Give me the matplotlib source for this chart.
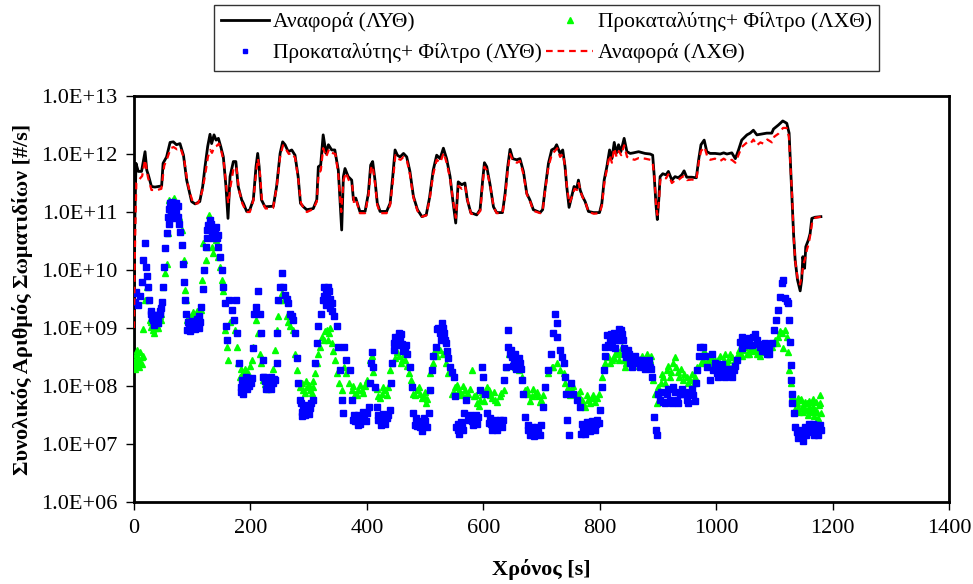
import numpy as np
import matplotlib.pyplot as plt
from matplotlib.ticker import FixedLocator, FuncFormatter, NullLocator

#-----------------------------------FONT
plt.rcParams['font.family'] = ['Liberation Serif', 'DejaVu Serif']

#-----------------------------------DATA (time [s], log10 of particle number [#/s])
# Αναφορά (ΛΥΘ) - black solid line
ref_lyt = [(0, 8.5), (1, 10.6), (3.4, 11.84), (7.4, 11.70), (13, 11.70), (19, 12.04), (22, 11.72),
           (24.6, 11.64), (30, 11.44), (36, 11.43), (47.5, 11.45), (50, 11.84), (56, 11.95), (62, 12.20),
           (67.6, 12.21), (73, 12.16), (79, 12.18), (85, 11.98), (90.5, 11.55), (95, 11.35), (99, 11.18),
           (105, 11.14), (113, 11.18), (118, 11.44), (122, 11.78), (126.6, 12.13), (130.6, 12.34),
           (133.4, 12.18), (137.5, 12.33), (141, 12.24), (145, 12.27), (149, 12.13), (153.5, 11.95),
           (158, 11.44), (161.5, 10.89), (165, 11.61), (170.7, 11.87), (175, 11.87), (179, 11.44),
           (185, 11.21), (188, 11.15), (193.6, 11.01), (199, 11.04), (205, 11.21), (209.6, 11.78),
           (212.5, 12.01), (215, 11.78), (219, 11.21), (225, 11.09), (239.4, 11.10), (245, 11.44),
           (251, 12.01), (255.4, 12.21), (259.5, 12.16), (265, 12.04), (271, 12.07), (276.6, 11.98),
           (282, 11.61), (286, 11.15), (291, 11.09), (296.7, 11.04), (308, 11.06), (314, 11.21),
           (316.7, 11.78), (320.7, 11.81), (325, 12.33), (330, 12.01), (334, 12.16), (339.6, 12.07),
           (345, 12.07), (351, 11.72), (356.8, 10.69), (359.7, 11.61), (362.5, 11.75), (368, 11.61),
           (374, 11.55), (377, 11.21), (381, 11.24), (388, 11.01), (397, 11.01), (402.6, 11.32),
           (406.6, 11.81), (410, 11.87), (414, 11.55), (418, 11.15), (422.7, 11.01), (434, 11.01),
           (440, 11.15), (444.5, 11.61), (448.5, 12.07), (452.5, 11.98), (457, 11.95), (463, 12.01),
           (468.5, 11.95), (474, 11.70), (480, 11.27), (487, 11.04), (494.6, 10.92), (502, 10.95),
           (507.6, 11.24), (514, 11.72), (520, 11.98), (525.8, 11.92), (531.5, 12.10), (537, 11.92),
           (543, 11.61), (547.6, 11.21), (552.7, 10.81), (557, 11.52), (563, 11.47), (568.5, 11.50),
           (572.6, 11.21), (578.5, 10.99), (588.8, 10.95), (594.5, 11.04), (599, 11.55), (602, 11.85),
           (606, 11.78), (611.7, 11.47), (617.5, 11.09), (623, 10.99), (633, 10.99), (637.5, 11.32),
           (642, 11.78), (646, 12.08), (650.5, 11.92), (657.5, 11.90), (663, 11.92), (669, 11.70),
           (674.7, 11.32), (680, 11.21), (686, 11.04), (697.6, 10.99), (702, 11.04), (706, 11.38),
           (712, 11.84), (717.5, 12.07), (723, 12.10), (726, 12.16), (732, 12.01), (736.5, 12.07),
           (740.5, 11.78), (743.4, 11.44), (747.4, 11.08), (752, 11.27), (756, 11.44), (760.6, 11.41),
           (763.5, 11.55), (766.4, 11.38), (770.4, 11.27), (775, 11.18), (780.7, 11.01), (789.4, 10.99),
           (799.7, 10.99), (803.7, 11.15), (807.7, 11.55), (812.3, 11.78), (817, 12.07), (821, 11.92),
           (825, 12.20), (828.5, 12.01), (832.4, 12.16), (836.4, 12.04), (842, 12.27), (846.8, 12.04),
           (852.5, 12.01), (858, 12.02), (866.8, 12.04), (878, 12.01), (886.6, 12.00), (891, 11.98),
           (893.4, 11.66), (897, 11.09), (899, 10.87), (901.5, 11.21), (903.8, 11.61), (908.4, 11.66),
           (914, 11.64), (918, 11.70), (924, 11.55), (929.5, 11.61), (935, 11.59), (941, 11.64),
           (945, 11.71), (949.5, 11.60), (958, 11.60), (966, 11.59), (970, 11.90), (974, 12.16),
           (979.5, 12.24), (984, 12.04), (989.8, 12.01), (998.4, 12.01), (1007, 12.00), (1013, 12.02),
           (1018.6, 12.00), (1027, 12.02), (1033, 11.92), (1038.5, 12.07), (1044, 12.24), (1053, 12.33),
           (1058.5, 12.36), (1064, 12.41), (1070, 12.33), (1081, 12.35), (1087, 12.36), (1095.6, 12.36),
           (1098.5, 12.43), (1107, 12.50), (1114.5, 12.57), (1121.4, 12.53), (1125.4, 12.36),
           (1128, 11.78), (1130.6, 11.21), (1133, 10.63), (1135.8, 10.17), (1139.8, 9.83), (1144.4, 9.64),
           (1147, 9.83), (1149, 10.23), (1152, 10.03), (1154, 10.40), (1158.6, 10.52), (1161.5, 10.63),
           (1164.4, 10.89), (1170, 10.91), (1180, 10.92)]

# Αναφορά (ΛΧΘ) - red dashed line
ref_lxt = [(0, 9.0), (1.5, 10.3), (4, 11.5), (8, 11.55), (14, 11.62), (19, 11.9), (24, 11.6), (30, 11.38),
           (40, 11.38), (47, 11.40), (52, 11.80), (58, 11.95), (63, 12.10), (68, 12.12), (74, 12.08),
           (80, 12.10), (86, 11.92), (92, 11.5), (97, 11.30), (102, 11.14), (110, 11.15), (117, 11.35),
           (122, 11.62), (127, 11.95), (131, 12.07), (134, 12.02), (138, 12.12), (142, 12.14),
           (146, 12.18), (150, 12.05), (154, 11.88), (159, 11.40), (162, 11.15), (166, 11.45),
           (171, 11.75), (176, 11.78), (180, 11.40), (186, 11.15), (193, 11.0), (199, 11.0), (205, 11.2),
           (210, 11.7), (213, 11.92), (216, 11.72), (220, 11.18), (226, 11.06), (239, 11.07),
           (245, 11.42), (251, 11.95), (256, 12.15), (260, 12.10), (266, 12.00), (271, 12.02),
           (277, 11.93), (282, 11.58), (287, 11.15), (292, 11.06), (297, 11.0), (308, 11.05),
           (314, 11.18), (317, 11.65), (321, 11.72), (325, 12.10), (330, 11.95), (335, 12.08),
           (340, 12.02), (346, 12.0), (351, 11.65), (356, 11.0), (360, 11.55), (364, 11.68),
           (369, 11.55), (375, 11.45), (378, 11.15), (382, 11.2), (388, 10.98), (397, 10.98),
           (403, 11.30), (407, 11.75), (410, 11.80), (414, 11.5), (418, 11.12), (423, 10.98),
           (434, 10.98), (440, 11.12), (445, 11.55), (449, 11.98), (453, 11.92), (458, 11.90),
           (463, 11.95), (469, 11.88), (474, 11.65), (480, 11.25), (487, 11.02), (495, 10.92),
           (502, 10.94), (508, 11.22), (514, 11.65), (520, 11.90), (526, 11.85), (532, 12.02),
           (537, 11.85), (543, 11.58), (548, 11.2), (553, 10.9), (557, 11.45), (563, 11.40),
           (569, 11.45), (573, 11.2), (579, 10.97), (589, 10.95), (595, 11.02), (599, 11.50),
           (602, 11.78), (606, 11.72), (612, 11.45), (618, 11.08), (623, 10.98), (633, 10.98),
           (638, 11.30), (642, 11.72), (646, 12.0), (651, 11.88), (658, 11.85), (663, 11.88),
           (669, 11.65), (675, 11.30), (680, 11.2), (686, 11.02), (698, 10.98), (702, 11.02),
           (706, 11.35), (712, 11.78), (718, 12.0), (723, 12.05), (727, 12.10), (732, 11.95),
           (737, 12.0), (741, 11.75), (744, 11.4), (748, 11.15), (752, 11.25), (757, 11.4),
           (761, 11.38), (764, 11.5), (767, 11.35), (771, 11.25), (776, 11.15), (781, 11.0),
           (790, 10.97), (800, 10.98), (804, 11.12), (808, 11.5), (812, 11.72), (817, 11.98),
           (821, 11.85), (825, 12.1), (829, 11.95), (833, 12.05), (837, 11.98), (842, 12.15),
           (847, 11.95), (853, 11.92), (860, 11.90), (867, 11.93), (878, 11.92), (887, 11.9),
           (891, 11.85), (894, 11.6), (897, 11.1), (899, 10.95), (902, 11.2), (904, 11.55),
           (909, 11.6), (914, 11.58), (918, 11.65), (924, 11.5), (930, 11.55), (935, 11.55),
           (941, 11.6), (945, 11.62), (950, 11.55), (958, 11.56), (966, 11.55), (970, 11.85),
           (974, 12.05), (980, 12.12), (985, 11.95), (990, 11.90), (998, 11.92), (1007, 11.88),
           (1013, 11.92), (1019, 11.88), (1027, 11.90), (1033, 11.85), (1039, 12.0), (1044, 12.12),
           (1053, 12.2), (1059, 12.18), (1064, 12.25), (1070, 12.15), (1076, 12.2), (1081, 12.18),
           (1088, 12.25), (1096, 12.2), (1100, 12.3), (1107, 12.35), (1115, 12.45), (1121, 12.45),
           (1125, 12.3), (1128, 11.75), (1131, 11.2), (1133, 10.6), (1136, 10.15), (1140, 9.85),
           (1144, 9.75), (1147, 9.9), (1150, 10.1), (1153, 10.2), (1156, 10.35), (1159, 10.45),
           (1162, 10.62), (1165, 10.82), (1170, 10.9), (1180, 10.92)]

# Προκαταλύτης+ Φίλτρο (ΛΥΘ) - blue squares (main trace + points around it)
dpf_lyt = [(0, 9.6), (2, 9.45), (4, 9.62), (7, 9.40), (10, 9.55), (13, 9.80), (16, 10.17), (19, 10.46),
           (20.6, 10.06), (22.5, 9.9), (24.6, 9.71), (26, 9.48), (28.6, 9.25), (31, 9.18), (33, 9.14),
           (36, 9.12), (39, 9.14), (42, 9.18), (44.7, 9.25), (48.7, 9.45), (50.4, 9.71), (52, 10.06),
           (53, 10.38), (56, 10.63), (59, 10.92), (62, 11.15), (64.7, 11.09), (67.6, 10.95), (70, 11.05),
           (73, 11.15), (76, 10.92), (79, 10.66), (82, 10.43), (85, 10.11), (86.5, 9.80), (87.6, 9.48),
           (89, 9.25), (91.6, 8.97), (94, 9.0), (96, 9.02), (99, 9.05), (102, 9.07), (105, 9.08),
           (107.7, 9.08), (110, 9.10), (113, 9.11), (115, 9.37), (118, 9.68), (120, 10.00), (123, 10.40),
           (126, 10.69), (128, 10.78), (130.6, 10.86), (133.4, 10.63), (136, 10.69), (138.5, 10.72),
           (141, 10.75), (145, 10.40), (148, 10.23), (150.6, 10.00), (153.5, 9.71), (156, 9.43),
           (158, 9.03), (160, 8.79), (163.8, 9.48), (168, 9.31), (172, 9.14), (175, 9.48), (177.5, 8.91),
           (181, 8.39), (183, 7.99), (186.7, 7.87), (190.7, 8.02), (193.5, 8.05), (196.5, 8.07),
           (199, 8.1), (202, 8.13), (205, 8.65), (206, 9.25), (209.6, 9.37), (213.6, 9.63), (216.5, 9.25),
           (218, 8.91), (221, 8.45), (222, 8.16), (225, 8.08), (228, 8.02), (231, 8.0), (233.7, 7.99),
           (238, 8.05), (242, 8.10), (245, 8.39), (246, 8.91), (248, 9.48), (251, 9.71), (253.7, 9.94),
           (256.6, 9.71), (259.5, 9.57), (262, 9.5), (265, 9.43), (268, 9.25), (271, 9.2), (274, 9.14),
           (276.6, 8.91), (279.5, 8.48), (281, 8.05), (285, 7.76), (288, 7.56), (291, 7.56), (294, 7.56),
           (298, 7.6), (302, 7.62), (307, 7.76), (311, 8.39), (314, 8.74), (316.7, 9.03), (320.7, 9.25),
           (324, 9.48), (327, 9.71), (331, 9.54), (335.6, 9.63), (339.6, 9.43), (343.6, 9.20),
           (348, 9.03), (351, 8.68), (354, 8.28), (356.8, 7.76), (358.5, 7.53), (360, 8.68),
           (365, 8.45), (371, 8.28), (374, 7.76), (377, 7.41), (380, 7.40), (382.6, 7.39), (387, 7.42),
           (391, 7.44), (395, 7.48), (400, 7.53), (403, 7.64), (406, 8.05), (407, 8.39), (408.5, 8.59),
           (411, 8.33), (414, 7.99), (417, 7.64), (420, 7.41), (423, 7.41), (426, 7.41), (430, 7.43),
           (434.5, 7.44), (439, 7.59), (441.5, 8.05), (443, 8.39), (446, 8.62), (449, 8.85), (453, 8.85),
           (457.5, 8.79), (460, 8.72), (463, 8.68), (466, 8.62), (469, 8.56), (474, 8.33), (477, 7.99),
           (479, 7.53), (483, 7.33), (487, 7.31), (491.6, 7.30), (496, 7.35), (500, 7.39), (506, 7.53),
           (509, 7.93), (512, 8.28), (514.5, 8.51), (519, 8.68), (521, 8.99), (525, 8.91), (529, 9.08),
           (533, 8.91), (536.5, 8.74), (540, 8.48), (543, 8.33), (546, 8.25), (549, 8.16), (551.6, 7.82),
           (553.3, 7.30), (557, 7.24), (560, 7.27), (563, 7.30), (567, 7.53), (570.5, 7.76), (574.5, 7.41),
           (580, 7.39), (586, 7.41), (591.6, 7.46), (594.5, 7.93), (597.5, 8.33), (600, 8.16), (603, 7.87),
           (606, 7.53), (609, 7.36), (613, 7.34), (617.5, 7.33), (622, 7.33), (626, 7.33), (630, 7.37),
           (633.5, 7.41), (636, 8.10), (639, 8.33), (642, 8.68), (643, 8.97), (646, 8.56), (649, 8.50),
           (652, 8.45), (655, 8.42), (659, 8.39), (663.3, 8.39), (666, 8.10), (669, 7.87), (672, 7.46),
           (677.5, 7.24), (682, 7.22), (686, 7.21), (690, 7.21), (694.5, 7.21), (700, 7.33), (703, 7.64),
           (706, 7.99), (712, 8.28), (716.7, 8.56), (720.5, 8.91), (723.4, 9.25), (726, 9.08),
           (727.4, 8.85), (732, 8.62), (735, 8.5), (738, 8.39), (740.5, 8.16), (742, 7.87), (744.6, 7.41),
           (747.4, 7.15), (750, 8.05), (755, 7.87), (760.6, 7.76), (766.4, 7.64), (767.5, 7.18),
           (772, 7.24), (776, 7.27), (780.7, 7.30), (785, 7.31), (789.4, 7.33), (794, 7.34), (798, 7.36),
           (800.7, 7.59), (803.7, 7.99), (806.6, 8.28), (808.4, 8.51), (809.5, 8.68), (812.3, 8.88),
           (817, 8.79), (821, 8.68), (823.8, 8.91), (828.5, 8.79), (832.4, 8.99), (836.4, 8.97),
           (839.8, 8.79), (843.7, 8.56), (848, 8.62), (852.5, 8.39), (858, 8.45), (863.7, 8.39),
           (869.5, 8.33), (875, 8.39), (881, 8.41), (886.6, 8.33), (889.5, 8.16), (893.4, 7.46),
           (897, 7.24), (899, 7.15), (901, 7.87), (903.8, 7.76), (909.5, 7.73), (915, 7.87), (921, 7.76),
           (926.6, 7.99), (932.4, 7.76), (938, 7.87), (943.9, 7.87), (949.5, 7.76), (955, 7.87),
           (961, 7.84), (966, 8.05), (968, 8.28), (970, 8.51), (973, 8.68), (977, 8.68), (981, 8.51),
           (985, 8.33), (989, 8.10), (993, 8.56), (995.4, 8.28), (1001, 8.22), (1007, 8.22), (1013, 8.21),
           (1018.6, 8.22), (1024, 8.22), (1030, 8.28), (1036, 8.45), (1041, 8.76), (1047, 8.74),
           (1053, 8.79), (1058.5, 8.71), (1064, 8.85), (1070, 8.79), (1075.6, 8.68), (1081, 8.68),
           (1087, 8.56), (1091, 8.65), (1095.6, 8.74), (1099.6, 8.97), (1103, 9.14), (1107, 9.31),
           (1110, 9.54), (1113, 9.77), (1114.5, 9.83), (1118.6, 9.51), (1121, 9.47), (1124, 9.43),
           (1126, 9.14), (1127, 8.76), (1128, 8.36), (1129, 8.10), (1130, 7.87), (1131, 7.70), (1133, 7.53),
           (1136, 7.30), (1138.5, 7.2), (1141.5, 7.10), (1144, 7.12), (1147, 7.15), (1150, 7.18),
           (1153, 7.21), (1156, 7.24), (1158.6, 7.27), (1161.5, 7.28), (1164.4, 7.30), (1167, 7.27),
           (1170, 7.24), (1173, 7.25), (1176, 7.27), (1180, 7.24),
           # spread of the band
           (30, 9.3), (33, 9.22), (36, 9.2), (40, 9.22), (44, 9.3), (47, 9.35), (35, 9.05), (41, 9.08),
           (93, 9.1), (97, 8.95), (100, 9.12), (104, 8.98), (108, 9.15), (111, 9.0), (112, 9.2),
           (60, 11.05), (63, 10.98), (66, 11.18), (69, 10.9), (72, 11.0), (75, 11.1), (61, 10.8), (77, 10.8),
           (125, 10.55), (129, 10.7), (132, 10.8), (135, 10.55), (139, 10.6), (142, 10.55), (144, 10.6),
           (185, 8.1), (188, 7.95), (192, 8.15), (195, 7.95), (198, 8.0), (201, 8.05), (184, 7.9),
           (224, 8.15), (227, 7.95), (230, 8.1), (235, 7.95), (240, 8.12), (236, 8.15),
           (287, 7.7), (290, 7.62), (293, 7.5), (296, 7.68), (300, 7.52), (304, 7.7), (289, 7.48),
           (326, 9.55), (329, 9.6), (333, 9.7), (337, 9.5), (341, 9.3), (330, 9.4), (336, 9.35),
           (378, 7.5), (384, 7.5), (389, 7.35), (393, 7.55), (398, 7.4), (385, 7.32),
           (419, 7.5), (424, 7.33), (428, 7.52), (432, 7.35), (436, 7.5),
           (447, 8.75), (451, 8.7), (455, 8.92), (459, 8.9), (462, 8.6), (467, 8.7),
           (484, 7.45), (489, 7.4), (494, 7.23), (498, 7.45), (503, 7.3),
           (523, 9.0), (527, 8.8), (531, 9.0), (535, 8.8), (538, 8.6),
           (556, 7.35), (559, 7.18), (562, 7.38), (565, 7.25),
           (577, 7.5), (582, 7.32), (588, 7.5), (590, 7.35),
           (611, 7.45), (615, 7.25), (620, 7.42), (624, 7.25), (628, 7.42), (632, 7.3),
           (648, 8.62), (651, 8.35), (654, 8.55), (657, 8.3), (661, 8.48), (664, 8.3),
           (676, 7.33), (680, 7.15), (684, 7.3), (688, 7.13), (692, 7.3), (697, 7.15),
           (770, 7.35), (774, 7.18), (778, 7.38), (783, 7.22), (787, 7.4), (792, 7.25), (796, 7.42),
           (814, 8.7), (819, 8.9), (826, 8.65), (830, 8.85), (834, 8.8), (838, 8.9), (842, 8.65),
           (846, 8.5), (850, 8.55), (855, 8.33), (860, 8.52), (866, 8.45), (872, 8.45), (878, 8.3),
           (884, 8.45), (888, 8.3), (906, 7.9), (912, 7.7), (918, 7.95), (924, 7.7), (930, 7.9),
           (935, 7.7), (941, 7.95), (947, 7.9), (952, 7.7), (958, 7.95), (963, 7.75),
           (998, 8.3), (1004, 8.15), (1010, 8.3), (1016, 8.15), (1021, 8.3), (1027, 8.15), (1033, 8.35),
           (998, 8.4), (1010, 8.38), (1044, 8.85), (1050, 8.7), (1056, 8.82), (1061, 8.7), (1067, 8.9),
           (1073, 8.72), (1078, 8.6), (1084, 8.75), (1090, 8.55), (1045, 8.65),
           (1143, 7.25), (1149, 7.05), (1152, 7.3), (1155, 7.15), (1160, 7.35), (1163, 7.2),
           (1166, 7.35), (1169, 7.15), (1172, 7.32), (1175, 7.15), (1178, 7.32)]

# Προκαταλύτης+ Φίλτρο (ΛΧΘ) - green triangles (main trace + points around it)
dpf_lxt = [(0, 8.39), (2, 8.45), (4, 8.35), (7.4, 8.48), (10, 8.42), (13, 8.5), (15, 8.51), (16, 8.99),
           (19, 9.48), (21.8, 9.71), (24.6, 9.48), (27.5, 9.14), (30, 9.02), (33, 8.97), (36, 9.0),
           (39, 9.03), (42, 9.08), (45.8, 9.14), (50.4, 9.71), (53, 9.94), (56, 10.11), (59, 10.63),
           (60.7, 11.21), (64, 11.15), (67.6, 11.21), (70, 11.1), (73, 11.04), (78, 10.92), (82, 10.69),
           (86, 10.17), (87.6, 9.66), (89, 9.48), (91.6, 9.14), (96, 9.14), (99, 9.17), (102, 9.20),
           (105, 9.22), (107.7, 9.25), (111, 9.28), (114.5, 9.31), (116, 9.83), (119, 10.46), (124, 10.17),
           (126, 10.40), (129.4, 10.95), (133.4, 10.40), (136, 10.29), (141, 10.52), (145, 10.23),
           (148, 10.06), (150.6, 9.83), (153.5, 9.63), (156, 8.97), (159, 8.68), (162, 8.45), (165, 9.11),
           (170.7, 9.14), (173.5, 8.97), (176.4, 8.68), (179, 8.39), (182, 8.16), (185, 8.2), (188, 8.22),
           (192, 8.22), (196.5, 8.22), (202, 8.45), (205, 8.68), (209.6, 9.14), (213.6, 8.91),
           (216.5, 8.56), (219, 8.39), (222, 8.10), (225, 8.03), (228, 7.99), (233.7, 7.99), (238, 8.3),
           (242, 8.62), (245, 8.97), (248, 9.20), (251, 9.48), (253.7, 9.60), (257.7, 9.48), (262, 9.20),
           (265, 9.1), (268, 9.03), (274, 8.97), (276.6, 8.56), (279.5, 8.28), (282, 8.05), (285, 7.99),
           (291, 7.93), (296.7, 7.99), (302, 7.93), (308, 7.99), (311, 8.22), (314, 8.39), (316.7, 8.56),
           (319.6, 8.68), (322.5, 8.85), (326.5, 8.79), (331, 8.97), (335.6, 8.91), (339.6, 8.74),
           (345, 8.45), (348, 8.22), (353, 8.05), (357, 7.93), (360, 8.33), (365, 8.22), (370, 8.05),
           (374, 7.93), (380, 7.87), (385, 7.93), (391, 7.93), (396, 8.0), (400, 8.10), (404.6, 8.45),
           (408.5, 8.51), (411, 8.25), (414, 7.99), (420, 7.82), (426, 7.87), (431.5, 7.93), (437, 7.99),
           (440, 8.28), (443, 8.39), (449, 8.48), (455, 8.51), (460.6, 8.45), (466, 8.45), (472, 8.22),
           (476.4, 8.10), (480, 7.87), (486, 7.93), (491.6, 7.87), (497.5, 7.82), (502, 7.70), (506, 7.93),
           (509, 8.22), (513, 8.39), (517, 8.62), (521, 8.51), (525.8, 8.62), (530, 8.56), (536.5, 8.39),
           (540, 8.22), (546, 7.87), (552, 7.99), (557.5, 7.93), (563, 7.87), (568.7, 7.93), (574.5, 7.87),
           (580, 8.28), (583.5, 7.82), (589, 7.70), (594.5, 7.76), (600, 7.87), (604, 7.9), (609, 7.93),
           (615, 7.79), (621, 7.76), (628, 7.82), (635, 7.93), (639, 8.33), (643.5, 8.56), (649, 8.39),
           (655, 8.33), (660.6, 8.28), (666, 8.16), (672, 7.93), (677.5, 7.87), (683, 7.82), (689, 7.87),
           (694.5, 7.82), (700, 7.76), (706, 7.99), (712, 8.22), (717.5, 8.33), (720.5, 8.33), (726, 8.39),
           (732, 8.28), (738, 8.22), (740.5, 8.05), (746, 7.99), (752, 7.93), (758, 7.87), (763.5, 7.87),
           (769, 7.76), (775, 7.64), (780.7, 7.76), (786.5, 7.79), (792, 7.73), (798, 7.87), (803.7, 8.16),
           (809.5, 8.39), (815, 8.51), (821, 8.45), (826.5, 8.56), (832.4, 8.45), (838, 8.68), (844, 8.33),
           (849.4, 8.51), (855, 8.39), (861, 8.45), (866.8, 8.39), (872.5, 8.51), (878, 8.45), (884, 8.33),
           (888, 8.51), (891.5, 8.10), (895.5, 7.87), (898, 7.70), (901, 7.99), (905, 8.05), (909.5, 8.16),
           (915, 8.28), (921, 8.16), (926.6, 8.39), (931, 8.33), (937, 8.16), (942.7, 8.10), (949.5, 8.16),
           (955, 8.10), (962, 8.05), (967, 8.33), (971.5, 8.51), (977, 8.45), (983, 8.51), (989, 8.39),
           (995.4, 8.39), (1001, 8.39), (1007, 8.51), (1013, 8.45), (1018.6, 8.39), (1024, 8.56),
           (1030, 8.39), (1036, 8.51), (1041, 8.56), (1047, 8.62), (1053, 8.56), (1058.5, 8.62),
           (1064, 8.68), (1070, 8.56), (1078.5, 8.59), (1087, 8.59), (1095.6, 8.68), (1101, 8.79),
           (1107, 8.85), (1113, 8.91), (1115.7, 8.65), (1118.6, 8.97), (1121.4, 8.85), (1124, 8.59),
           (1126, 8.28), (1128, 8.05), (1130, 7.82), (1133, 7.76), (1135, 7.6), (1138.5, 7.70),
           (1141, 7.62), (1144, 7.76), (1147, 7.62), (1150, 7.67), (1153, 7.58), (1155.5, 7.70),
           (1158, 7.6), (1161.5, 7.62), (1164, 7.72), (1167, 7.64), (1170, 7.58), (1173, 7.56),
           (1176, 7.68), (1178.6, 7.85), (1180, 7.53),
           # spread of the band
           (1, 8.3), (3, 8.55), (5, 8.4), (8, 8.32), (11, 8.58), (14, 8.38), (6, 8.62),
           (29, 9.1), (32, 9.05), (35, 8.92), (38, 9.1), (41, 9.0), (44, 9.2), (47, 9.25),
           (62, 11.0), (65, 11.05), (69, 11.25), (72, 11.1), (75, 10.95),
           (94, 9.2), (98, 9.1), (101, 9.28), (104, 9.15), (108, 9.3), (112, 9.22),
           (184, 8.3), (187, 8.15), (191, 8.3), (194, 8.15), (199, 8.35),
           (226, 8.1), (230, 7.95), (232, 8.12), (235, 8.05),
           (288, 8.05), (293, 7.88), (295, 8.08), (300, 8.02), (305, 7.88), (307, 8.08),
           (328, 8.95), (333, 8.8), (337, 9.0), (342, 8.6),
           (377, 8.0), (383, 7.85), (388, 8.02), (393, 7.88), (398, 8.05),
           (418, 7.95), (423, 7.8), (428, 7.98), (434, 7.85),
           (452, 8.58), (458, 8.4), (463, 8.55), (469, 8.35),
           (483, 7.85), (489, 7.98), (494, 7.8), (500, 7.9), (504, 7.78),
           (550, 7.88), (555, 8.02), (560, 7.85), (566, 8.0), (571, 7.82), (577, 7.95),
           (587, 7.85), (592, 7.65), (597, 7.9), (602, 7.75), (607, 7.98), (612, 7.85), (618, 7.9),
           (624, 7.72), (631, 7.88), (675, 7.95), (680, 7.75), (686, 7.95), (692, 7.9), (697, 7.72),
           (703, 7.85), (749, 7.85), (755, 8.0), (761, 7.8), (766, 7.92), (772, 7.7), (778, 7.85),
           (783, 7.7), (789, 7.85), (795, 7.8),
           (812, 8.5), (818, 8.4), (824, 8.48), (829, 8.6), (835, 8.55), (841, 8.45), (846, 8.4),
           (852, 8.48), (858, 8.35), (864, 8.5), (869, 8.45), (875, 8.38), (881, 8.55), (886, 8.45),
           (903, 7.9), (907, 8.2), (912, 8.05), (918, 8.35), (923, 8.25), (929, 8.5), (934, 8.25),
           (940, 8.3), (945, 8.2), (952, 8.05), (958, 8.2), (964, 8.15),
           (974, 8.4), (980, 8.6), (986, 8.45), (992, 8.5), (998, 8.45), (1004, 8.45), (1010, 8.38),
           (1016, 8.55), (1021, 8.45), (1027, 8.5), (1033, 8.45), (1039, 8.62), (1044, 8.52),
           (1050, 8.68), (1056, 8.55), (1061, 8.6), (1067, 8.62), (1073, 8.65), (1076, 8.52),
           (1082, 8.68), (1090, 8.62), (1098, 8.75), (1104, 8.75), (1110, 8.95),
           (1136, 7.75), (1140, 7.8), (1143, 7.55), (1146, 7.78), (1149, 7.55), (1152, 7.72),
           (1157, 7.5), (1160, 7.75), (1163, 7.55), (1166, 7.78), (1169, 7.48), (1172, 7.72),
           (1175, 7.45), (1179, 7.7)]

labels = ['Αναφορά (ΛΥΘ)', 'Προκαταλύτης+ Φίλτρο (ΛΧΘ)', 'Προκαταλύτης+ Φίλτρο (ΛΥΘ)', 'Αναφορά (ΛΧΘ)']
y_ticks = [1e6, 1e7, 1e8, 1e9, 1e10, 1e11, 1e12, 1e13]
x_ticks = [0, 200, 400, 600, 800, 1000, 1200, 1400]

t1, v1 = np.array(ref_lyt).T
t2, v2 = np.array(dpf_lxt).T
t3, v3 = np.array(dpf_lyt).T
t4, v4 = np.array(ref_lxt).T

#-----------------------------------PLOT
fig = plt.figure(figsize=(9.73, 5.84), dpi=100)
ax = fig.add_axes([0.1377, 0.1404, 0.8376, 0.6952])

l1, = ax.plot(t1, 10**v1, color='black', lw=2.0, zorder=2)
l2, = ax.plot(t2, 10**v2, ls='none', marker='^', ms=4.6, color='#00ff00', mec='#00ff00', zorder=3)
l3, = ax.plot(t3, 10**v3, ls='none', marker='s', ms=4.2, color='#0000ff', mec='#0000ff', zorder=4)
l4, = ax.plot(t4, 10**v4, color='#ff0000', lw=1.6, ls=(0, (3.0, 2.2)), zorder=5)

ax.set_yscale('log')
ax.set_xlim(0, 1400)
ax.set_ylim(1e6, 1e13)
ax.yaxis.set_major_locator(FixedLocator(y_ticks))
ax.yaxis.set_minor_locator(NullLocator())
ax.yaxis.set_major_formatter(FuncFormatter(lambda v, p: '1.0E+%02d' % int(round(np.log10(v)))))
ax.xaxis.set_major_locator(FixedLocator(x_ticks))

for s in ax.spines.values():
    s.set_linewidth(2)
ax.tick_params(axis='both', which='major', direction='out', length=6, width=1, labelsize=16)
ax.tick_params(axis='y', pad=6)
ax.tick_params(axis='x', pad=6)

ax.set_xlabel('Χρόνος [s]', fontsize=16, fontweight='bold')
ax.set_ylabel('Συνολικός Αριθμός Σωματιδίων [#/s]', fontsize=16, fontweight='bold')
ax.xaxis.set_label_coords(0.5, -0.14)
ax.yaxis.set_label_coords(-0.124, 0.5)

# legend: row 1 -> black, green ; row 2 -> blue, red (column major in matplotlib)
leg = fig.legend([l1, l3, l2, l4], [labels[0], labels[2], labels[1], labels[3]],
                 ncol=2, loc='upper center', bbox_to_anchor=(0.5617, 0.992),
                 fontsize=15.5, frameon=True, fancybox=False, edgecolor='black',
                 handlelength=2.2, handletextpad=0.2, columnspacing=0.2,
                 borderpad=0.35, labelspacing=0.5, borderaxespad=0.0, markerscale=0.8)
leg.get_frame().set_linewidth(1.0)

plt.savefig('out.png', dpi=100)
